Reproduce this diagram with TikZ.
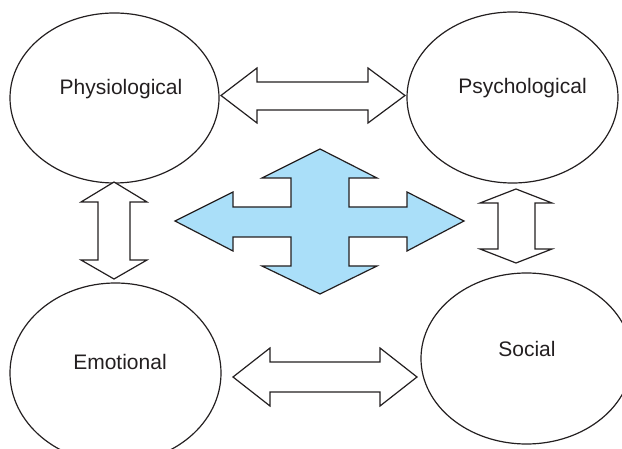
\documentclass[tikz,border=0pt]{standalone}
\usepackage{fontspec}
\setmainfont{Liberation Sans}
\usetikzlibrary{calc,shapes.geometric}
\definecolor{ink}{RGB}{35,31,32}
\definecolor{crossblue}{RGB}{170,223,249}

\begin{document}
\begin{tikzpicture}[x=1pt, y=-1pt, line width=1.2pt,
  area/.style={ellipse, draw=ink, inner sep=0pt},
  lbl/.style={text=ink, font=\fontsize{21}{25}\selectfont, inner sep=0pt},
  blockarrow/.style={draw=ink, fill=white, line join=miter}]
  \clip (0,0) rectangle (622,449);
  % the four domains
  \node[area, minimum width=209pt, minimum height=170pt] (phys) at (114.5,98) {};
  \node[area, minimum width=211pt, minimum height=171pt] (psych) at (512.5,97.5) {};
  \node[area, minimum width=211pt, minimum height=180pt] (emo) at (115.5,373) {};
  \node[area, minimum width=211pt, minimum height=171pt] (soc) at (526.5,358.5) {};
  \node[lbl] (physT) at ($(phys.center)+(6.5,-9)$) {Physiological};
  \node[lbl] (psychT) at ($(psych.center)+(10,-9.5)$) {Psychological};
  \node[lbl] (emoT) at ($(emo.center)+(4.5,-11)$) {Emotional};
  \node[lbl] (socT) at ($(soc.center)+(0.5,-9.5)$) {Social};
  % Physiological <-> Psychological
  \draw[blockarrow] (221,95.5) -- (257,68) -- (257,82) -- (368,82) -- (368,68)
    -- (405,95.5) -- (368,123) -- (368,110) -- (257,110) -- (257,123) -- cycle;
  % Emotional <-> Social
  \draw[blockarrow] (233,377) -- (270,348) -- (270,362) -- (380,362) -- (380,348)
    -- (417,377) -- (380,406) -- (380,392) -- (270,392) -- (270,406) -- cycle;
  % Physiological <-> Emotional
  \draw[blockarrow] (114,182) -- (147,202) -- (130,202) -- (130,260) -- (147,260)
    -- (114,279) -- (81,260) -- (98,260) -- (98,202) -- (81,202) -- cycle;
  % Psychological <-> Social
  \draw[blockarrow] (516,189) -- (552,203) -- (535,203) -- (535,249) -- (552,249)
    -- (516,263) -- (480,249) -- (498,249) -- (498,203) -- (480,203) -- cycle;
  % blue cross in the middle, centre (320,221)
  \draw[draw=ink, fill=crossblue, line join=miter]
    (175,221) -- (233,192) -- (233,207) -- (291,207) -- (291,178) -- (262,178)
    -- (320,149) -- (377,178) -- (349,178) -- (349,207) -- (407,207) -- (407,192)
    -- (464,221) -- (407,251) -- (407,237) -- (349,237) -- (349,266) -- (377,266)
    -- (320,294) -- (262,266) -- (291,266) -- (291,237) -- (233,237) -- (233,251)
    -- cycle;
\end{tikzpicture}
\end{document}
